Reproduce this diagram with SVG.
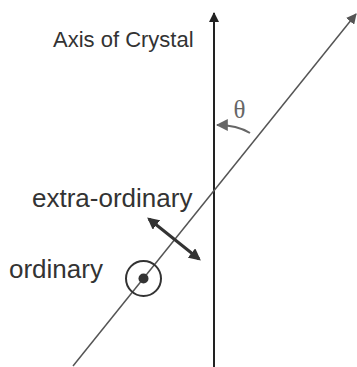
<svg xmlns="http://www.w3.org/2000/svg" width="357" height="367" viewBox="0 0 357 367">
<style>
.lbl{font-family:"Liberation Sans",Arial,sans-serif;fill:#333}
</style>
<defs>
<marker id="ah-dark" viewBox="0 0 10 10" refX="9" refY="5" markerWidth="5" markerHeight="6" markerUnits="strokeWidth" orient="auto-start-reverse">
<path d="M0,0 L10,5 L0,10 z" fill="#222"/>
</marker>
<marker id="ah-gray" viewBox="0 0 10 10" refX="9" refY="5" markerWidth="7" markerHeight="7" markerUnits="strokeWidth" orient="auto">
<path d="M0,0 L10,5 L0,10 z" fill="#555"/>
</marker>
<marker id="ah-dbl" viewBox="0 0 10 10" refX="8" refY="5" markerWidth="4" markerHeight="4" markerUnits="strokeWidth" orient="auto-start-reverse">
<path d="M0,0 L10,5 L0,10 z" fill="#333"/>
</marker>
<marker id="ah-theta" viewBox="0 0 10 10" refX="9" refY="5" markerWidth="6" markerHeight="6" markerUnits="strokeWidth" orient="auto">
<path d="M0,0 L10,5 L0,10 z" fill="#666"/>
</marker>
</defs>
<g id="connectors">
<line id="axis" x1="214" y1="367" x2="214" y2="13" stroke="#222" stroke-width="2" marker-end="url(#ah-dark)"/>
<line id="ray" x1="73" y1="366" x2="356" y2="14" stroke="#555" stroke-width="1.5" marker-end="url(#ah-gray)"/>
<line id="extra-arrow" x1="149" y1="219" x2="199" y2="259" stroke="#333" stroke-width="3" marker-start="url(#ah-dbl)" marker-end="url(#ah-dbl)"/>
<path id="theta-arc" d="M250,133 Q237,125 217,125" fill="none" stroke="#666" stroke-width="2" marker-end="url(#ah-theta)"/>
</g>
<g id="ordinary-symbol">
<circle cx="143.5" cy="278.5" r="17.5" fill="none" stroke="#333" stroke-width="2"/>
<circle cx="143.5" cy="278.5" r="5" fill="#333"/>
</g>
<g id="label-axis"><text class="lbl" x="53" y="47" font-size="22">Axis of Crystal</text></g>
<g id="label-extra"><text class="lbl" x="32" y="207" font-size="26">extra-ordinary</text></g>
<g id="label-ordinary"><text class="lbl" x="9" y="278" font-size="26">ordinary</text></g>
<g id="label-theta"><text x="239.5" y="118" font-size="25" text-anchor="middle" font-family="'Liberation Serif','Times New Roman',serif" fill="#666">θ</text></g>
</svg>
